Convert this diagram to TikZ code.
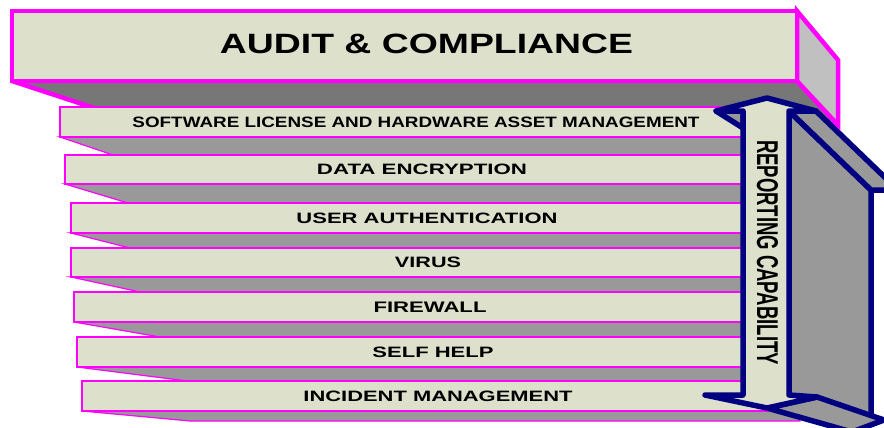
\documentclass[tikz,border=0pt]{standalone}
\usepackage{fontspec}
\setmainfont{Liberation Sans}
\usepackage{graphicx}

\definecolor{face}{RGB}{221,224,203}
\definecolor{under}{RGB}{153,153,153}
\definecolor{darkunder}{RGB}{119,119,119}
\definecolor{sideface}{RGB}{192,192,192}
\definecolor{pinkedge}{RGB}{255,0,255}
\definecolor{navyedge}{RGB}{0,0,128}

% bold caption squeezed into a given width and cap height
\newcommand{\fitlabel}[3]{\resizebox{#1}{#2}{\bfseries #3}}

\begin{document}
\begin{tikzpicture}[x=1pt,y=-1pt,
  boxedge/.style={draw=pinkedge, line width=4.5pt, line join=miter},
  barface/.style={fill=face, draw=pinkedge, line width=1.2pt},
  barunder/.style={fill=under, draw=pinkedge, line width=1.2pt},
  arrowedge/.style={draw=navyedge, line width=5.5pt, line join=round},
  lbl/.style={inner sep=0pt, anchor=center}]

\useasboundingbox (0,0) rectangle (884,428);
\clip (0,0) rectangle (884,428);

% underside of the top slab
\filldraw[fill=darkunder, boxedge, line join=bevel] (12,81) -- (797,81) -- (838,125) -- (146,125) -- cycle;

% the stacked bars, each with its lower face
\foreach \i/\l/\t/\b/\dx/\dy/\tx/\tw/\txt in {
  1/60/107/137/53/18/416/567/SOFTWARE LICENSE AND HARDWARE ASSET MANAGEMENT,
  2/65/155/184/63/19/422/210/DATA ENCRYPTION,
  3/71/203/233/59/15/427/261/USER AUTHENTICATION,
  4/71/248/277/69/15/428/66/VIRUS,
  5/74/292/322/86/15/430/113/FIREWALL,
  6/77/337/367/110/14/433/121/SELF HELP,
  7/82/381/411/108/10/438/269/INCIDENT MANAGEMENT}
{
  \filldraw[barunder] (\l,\b) -- (800,\b) -- (800,\b+\dy) -- (\l+\dx,\b+\dy) -- cycle;
  \filldraw[barface] (\l,\t) rectangle (780,\b);
  \node[lbl] (bar\i) at (\tx,{(\t+\b)/2}) {\fitlabel{\tw pt}{10.5pt}{\txt}};
}

% double block arrow: depth faces first
\filldraw[fill=under, arrowedge] (789,111) -- (871,190) -- (871,418) -- (789,395) -- cycle;
\filldraw[fill=under, arrowedge] (789,111) -- (816,111) -- (898,190) -- (871,190) -- cycle;
\filldraw[fill=under, arrowedge] (716,111) -- (743,111) -- (743,128) -- cycle;
\filldraw[fill=under, arrowedge] (767,408) -- (817,397) -- (884,420) -- (852,432) -- cycle;
% front of the arrow
\filldraw[fill=face, arrowedge]
  (767,98) -- (816,111) -- (789,111) -- (789,395) -- (817,397) -- (767,408)
  -- (705,395) -- (743,395) -- (743,111) -- (716,111) -- cycle;
\node[lbl, rotate=-90] (report) at (767.5,252.5)
  {\fitlabel{225pt}{21pt}{REPORTING CAPABILITY}};

% top slab: side and front
\filldraw[fill=sideface, boxedge] (797,11) -- (838,60) -- (838,125) -- (797,81) -- cycle;
\filldraw[fill=face, boxedge] (12,11) rectangle (797,81);
\node[lbl] (title) at (426.5,44) {\fitlabel{413pt}{19.5pt}{AUDIT \& COMPLIANCE}};

\end{tikzpicture}
\end{document}
